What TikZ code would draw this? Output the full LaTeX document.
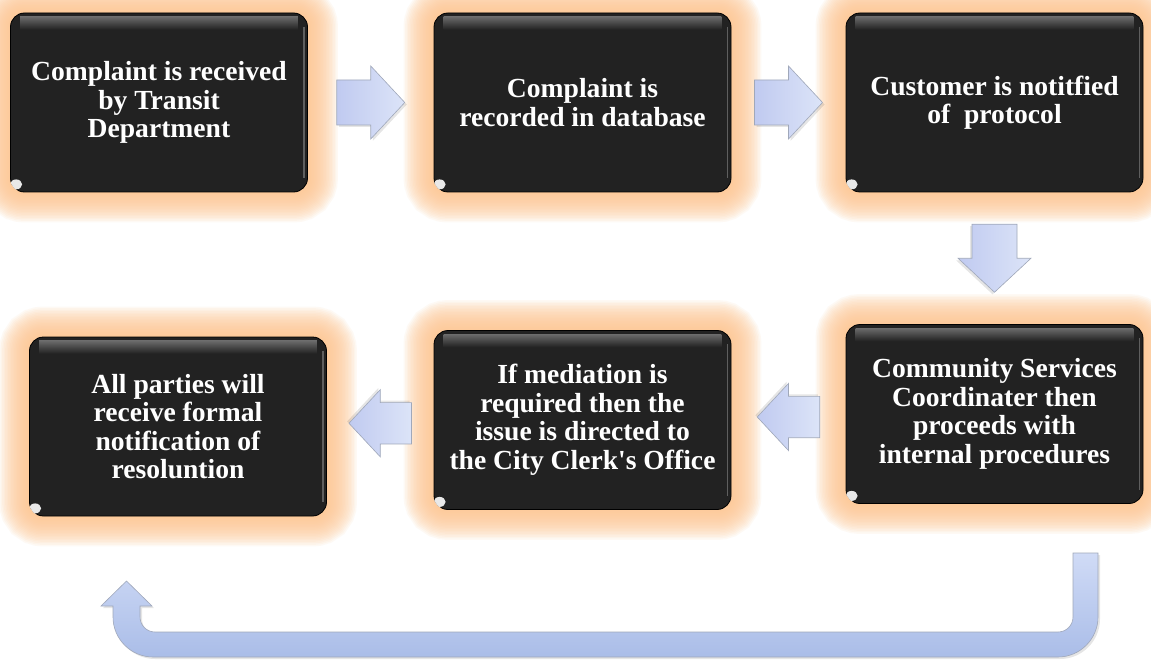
\documentclass[tikz,border=0pt]{standalone}
\usepackage{fontspec}
\setmainfont{Liberation Serif}
\usetikzlibrary{calc}
\definecolor{boxdark}{HTML}{222222}
\definecolor{glowc}{HTML}{FDC690}
\definecolor{arrL}{HTML}{C0CAF0}
\definecolor{arrR}{HTML}{DCE4F8}
\definecolor{arrEdge}{HTML}{A0A8BA}
\definecolor{loopTop}{HTML}{D0DBF6}
\definecolor{loopBot}{HTML}{AABDE8}
\pgfdeclarelayer{background}
\pgfsetlayers{background,main}
\tikzset{
  stepbox/.style={rectangle, rounded corners=14pt, fill=boxdark, draw=black, line width=0.8pt,
    minimum width=297pt, minimum height=179pt, align=center, text=white, inner sep=0pt,
    font=\bfseries\fontsize{27.6}{28.5}\selectfont},
  glowline/.style={draw=glowc, opacity=0.09, rounded corners=14pt},
  arrowbody/.style={left color=arrL, right color=arrR, draw=arrEdge, line width=0.6pt},
  arrowshadow/.style={fill=black, opacity=0.10},
  blockarrow/.pic={
    \fill[arrowshadow] (-32,-20.5) -- (2,-20.5) -- (2,-34.5) -- (36,2) -- (2,38.5) -- (2,24.5) -- (-32,24.5) -- cycle;
    \shade[arrowbody] (-34,-22.5) -- (0,-22.5) -- (0,-36.5) -- (34,0) -- (0,36.5) -- (0,22.5) -- (-34,22.5) -- cycle;
  },
}
\newcommand\glossybox[1]{%
  \begin{scope}
    \clip[rounded corners=14pt] (#1.north west) rectangle (#1.south east);
    \shade[top color=black!58, bottom color=boxdark] ($(#1.north west)+(10,4)$) rectangle ($(#1.north east)+(-10,17)$);
    \draw[white, opacity=0.28, line width=1.5pt] ($(#1.north east)+(-4,14)$) -- ($(#1.south east)+(-4,-14)$);
    \fill[white, opacity=0.9] ($(#1.south west)+(6,-8)$) ellipse (6 and 5);
  \end{scope}
  \begin{pgfonlayer}{background}
    \foreach \w in {3,6,...,60} \draw[glowline, line width=\w pt] (#1.north west) rectangle (#1.south east);
  \end{pgfonlayer}%
}
\begin{document}
\begin{tikzpicture}[x=1pt, y=-1pt]
\begin{pgfonlayer}{background}
\fill[white] (0,0) rectangle (1151,663);
\end{pgfonlayer}
\useasboundingbox (0,0) rectangle (1151,663);

\node[stepbox] (b1) at (159,102.5) {Complaint is received\\by Transit\\Department};
\node[stepbox] (b2) at (582.5,102.5) {Complaint is\\recorded in database};
\node[stepbox] (b3) at (994.5,102.5) {Customer is notitfied\\of~~protocol};
\node[stepbox] (b4) at (178,426.5) {All parties will\\receive formal\\notification of\\resoluntion};
\node[stepbox] (b5) at (582.5,420) {If mediation is\\required then the\\issue is directed to\\the City Clerk\textquotesingle s Office};
\node[stepbox] (b6) at (994.5,414) {Community Services\\Coordinater then\\proceeds with\\internal procedures};

\foreach \b in {b1,b2,b3,b4,b5,b6} {\glossybox{\b}}

\coordinate (a12) at ($(b1.east)!0.5!(b2.west)$);
\coordinate (a23) at ($(b2.east)!0.5!(b3.west)$);
\coordinate (a36) at ($(b3.south)!0.5!(b6.north)$);
\coordinate (a65) at ($(b6.west)!0.5!(b5.east)$);
\coordinate (a54) at ($(b5.west)!0.5!(b4.east)$);

\pic at (a12) {blockarrow};
\pic at (a23) {blockarrow};
\pic[rotate=-90] at (a36) {blockarrow};
\pic[rotate=180, scale=0.92] at (a65) {blockarrow};
\pic[rotate=180, scale=0.92] at (a54) {blockarrow};

% return loop arrow
\coordinate (loopstart) at (1085.5,553);
\coordinate (looptip) at (126.5,581);
\fill[arrowshadow] ([shift={(2,2)}]loopstart) ++(-12.5,0) -- ++(0,64) .. controls ++(0,8.3) and ++(8.3,0) .. ++(-15,15)
  -- (157,634) .. controls (148.7,634) and (142,627.3) .. (142,619) -- (142,608) -- (154,608) -- (128.5,583) -- (103,608) -- (115,608)
  -- (115,619) .. controls (115,641) and (133,659) .. (155,659) -- (1060,659) .. controls (1082,659) and (1100,641) .. (1100,619) -- (1100,555) -- cycle;
\shade[top color=loopTop, bottom color=loopBot, draw=arrEdge, line width=0.6pt]
  (loopstart) ++(-12.5,0) -- (1073,617) .. controls (1073,625.3) and (1066.3,632) .. (1058,632)
  -- (155,632) .. controls (146.7,632) and (140,625.3) .. (140,617) -- (140,606) -- (152,606) -- (looptip) -- (101,606) -- (113,606)
  -- (113,617) .. controls (113,639) and (131,657) .. (153,657) -- (1058,657) .. controls (1080,657) and (1098,639) .. (1098,617) -- (1098,553) -- cycle;
\end{tikzpicture}
\end{document}
